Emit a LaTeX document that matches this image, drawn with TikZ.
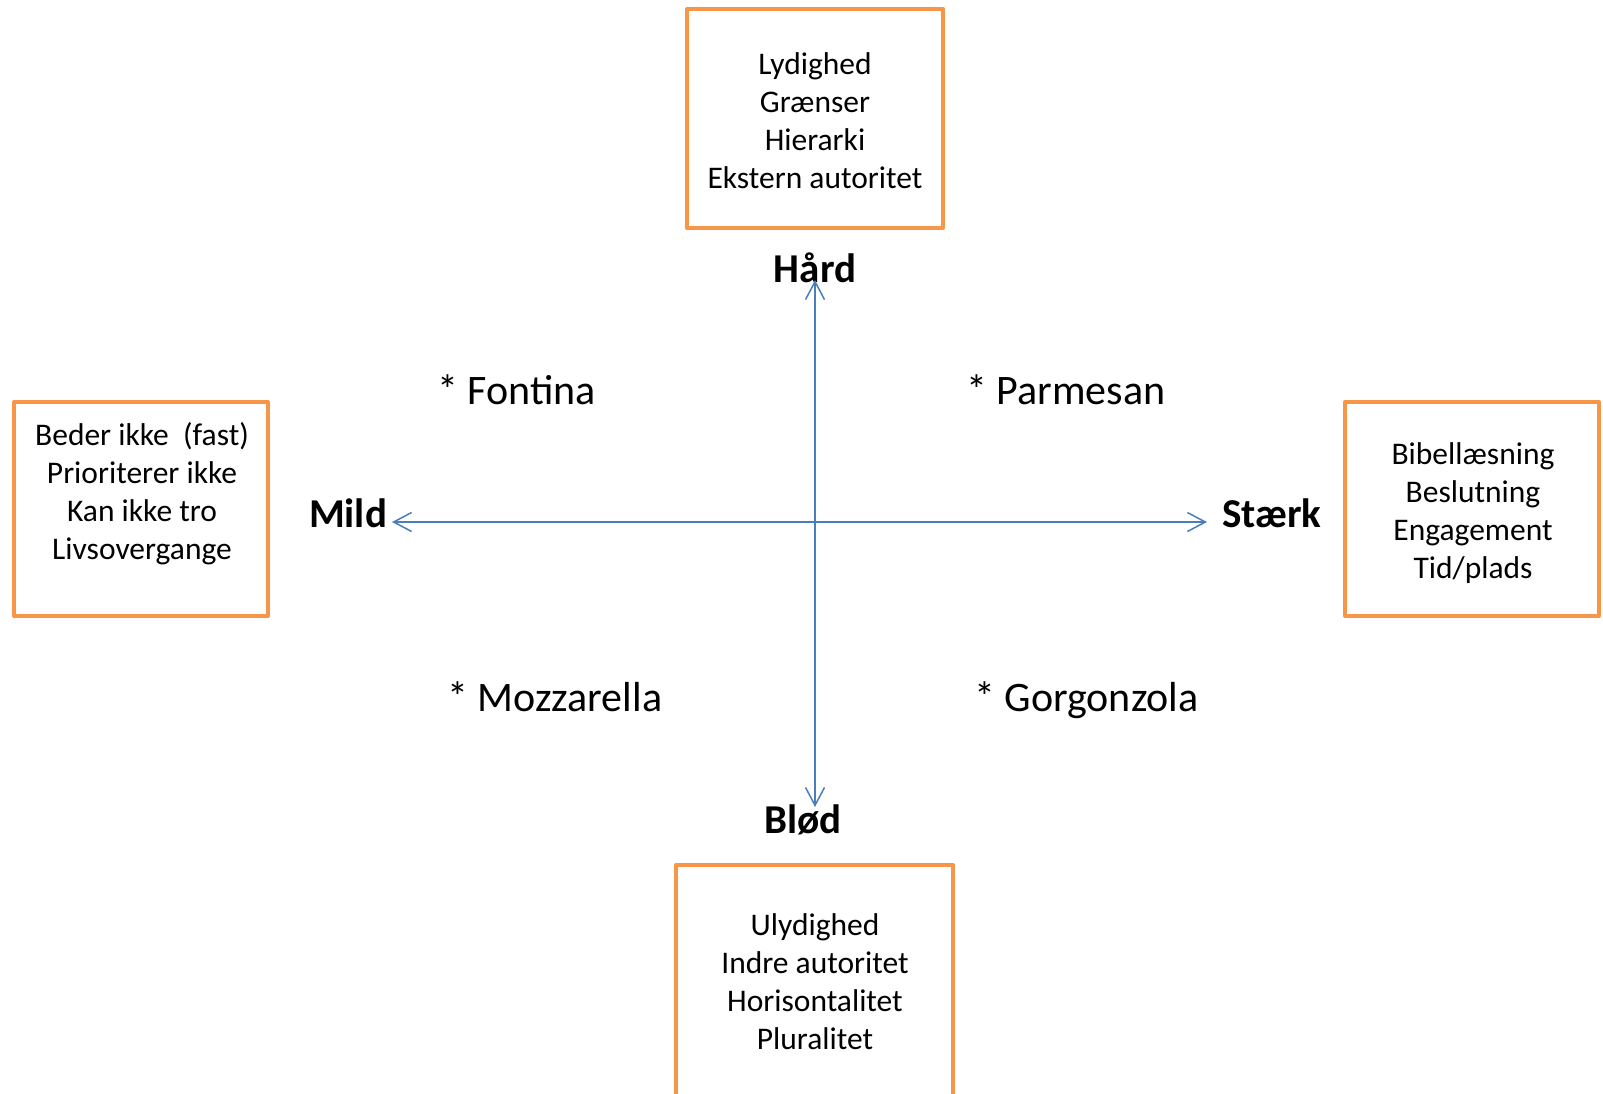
\documentclass[tikz,border=0pt]{standalone}
\usepackage{fontspec}
\setmainfont{Carlito}
\usetikzlibrary{arrows.meta}
\usetikzlibrary{positioning}
\definecolor{axisblue}{RGB}{74,126,187}
\definecolor{boxorange}{RGB}{247,150,70}
\tikzset{
 listbox/.style={draw=boxorange, line width=4, line join=round, inner sep=0},
 listtext/.style={align=center, inner sep=0, font=\fontsize{31.5}{38}\selectfont,
   execute at begin node=\strut, execute at end node=\strut},
 pole/.style={inner sep=0, anchor=base, font=\fontsize{41}{48}\selectfont\bfseries},
 cheese/.style={inner sep=0, anchor=base west, font=\fontsize{42}{49}\selectfont},
 axis/.style={axisblue, line width=1.5, arrows={Straight Barb[length=18, width=19]-Straight Barb[length=18, width=19]}},
}
\begin{document}
\begin{tikzpicture}[x=1pt, y=-1pt]
\useasboundingbox (0,0) rectangle (1603,1093);
% boxes
\node[listbox, minimum width=256, minimum height=219] (hardbox) at (815,118.5) {};
\node[listbox, minimum width=254, minimum height=214] (mildbox) at (141,509) {};
\node[listbox, minimum width=254, minimum height=214] (staerkbox) at (1472,509) {};
\node[listbox, minimum width=277, minimum height=250] (blodbox) at (814.5,990) {};
\node[listtext] (hardlist) at (815,126) {Lydighed\\Grænser\\Hierarki\\Ekstern autoritet};
\node[listtext] (mildlist) at (142,497) {Beder ikke\ \ (fast)\\Prioriterer ikke\\Kan ikke tro\\Livsovergange};
\node[listtext] (staerklist) at (1473,516) {Bibellæsning\\Beslutning\\Engagement\\Tid/plads};
\node[listtext] (blodlist) at (815,987) {Ulydighed\\Indre autoritet\\Horisontalitet\\Pluralitet};
% poles
\node[pole] (hard) at (815,282) {Hård};
\node[pole] (mild) at (348,527) {Mild};
\node[pole] (staerk) at (1272,527) {Stærk};
\node[pole] (blod) at (803,833) {Blød};
% axes
\coordinate (west) at (392,522);
\coordinate (east) at (1207,522);
\coordinate (north) at (815,280);
\coordinate (south) at (815,807);
\draw[axis] (west) -- (east);
\draw[axis] (north) -- (south);
% quadrants
\foreach \name/\x/\y in {Fontina/437/404, Parmesan/966/404, Mozzarella/447/711, Gorgonzola/974/711}
 \node[cheese] (\name) at (\x,\y) {* \name};
\end{tikzpicture}
\end{document}
